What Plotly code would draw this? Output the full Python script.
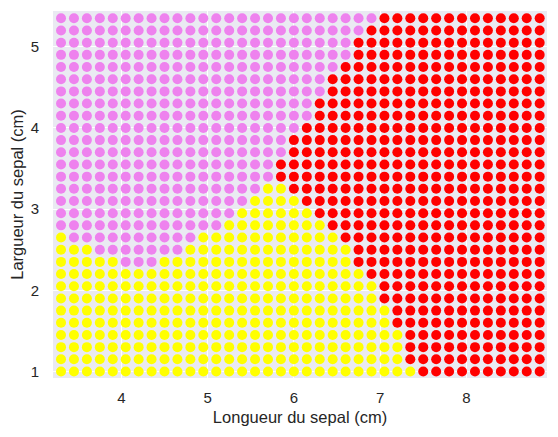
import plotly.graph_objects as go

# grid of the decision surface (sepal length on x, sepal width on y)
x_grid = [3.30, 3.45, 3.60, 3.75, 3.90, 4.05, 4.20, 4.35, 4.50, 4.65,
          4.80, 4.95, 5.10, 5.25, 5.40, 5.55, 5.70, 5.85, 6.00, 6.15,
          6.30, 6.45, 6.60, 6.75, 6.90, 7.05, 7.20, 7.35, 7.50, 7.65,
          7.80, 7.95, 8.10, 8.25, 8.40, 8.55, 8.70, 8.85]
y_grid = [5.35, 5.20, 5.05, 4.90, 4.75, 4.60, 4.45, 4.30, 4.15, 4.00,
          3.85, 3.70, 3.55, 3.40, 3.25, 3.10, 2.95, 2.80, 2.65, 2.50,
          2.35, 2.20, 2.05, 1.90, 1.75, 1.60, 1.45, 1.30, 1.15, 1.00]

# predicted class along each row, left to right, as runs (top row first)
# V = setosa, Y = versicolor, R = virginica
row_runs = [
    "V25 R13", "V24 R14", "V23 R15", "V23 R15", "V22 R16",
    "V21 R17", "V21 R17", "V20 R18", "V20 R18", "V19 R19",
    "V18 R20", "V18 R20", "V17 R21", "V17 R21", "V16 Y2 R20",
    "V15 Y4 R19", "V14 Y6 R18", "V13 Y8 R17", "Y1 V10 Y11 R16", "Y3 V7 Y13 R15",
    "Y5 V3 Y15 R15", "Y24 R14", "Y25 R13", "Y25 R13", "Y26 R12",
    "Y26 R12", "Y27 R11", "Y27 R11", "Y27 R11", "Y28 R10",
]

class_names = {"V": "setosa", "Y": "versicolor", "R": "virginica"}
class_colors = {"V": "violet", "Y": "yellow", "R": "red"}

points = {k: ([], []) for k in class_names}
for y, runs in zip(y_grid, row_runs):
    labels = []
    for run in runs.split():
        labels += [run[0]] * int(run[1:])
    assert len(labels) == len(x_grid)
    for x, lab in zip(x_grid, labels):
        points[lab][0].append(x)
        points[lab][1].append(y)

fig = go.Figure()
for k in ["V", "Y", "R"]:
    fig.add_trace(go.Scatter(
        x=points[k][0], y=points[k][1], mode="markers", name=class_names[k],
        marker=dict(color=class_colors[k], size=10, line=dict(width=0)),
    ))

# the page adds an 8px body margin, so the figure is a bit smaller than the window
font = "Liberation Sans, Arial, sans-serif"
fig.update_layout(
    width=550, height=429,
    margin=dict(l=45, r=11, t=3, b=59),
    paper_bgcolor="white", plot_bgcolor="#EAEAF2",
    showlegend=False,
    font=dict(family=font, color="#262626", size=15),
)
fig.update_xaxes(
    range=[3.207, 8.935], tickvals=[4, 5, 6, 7, 8],
    showgrid=True, gridcolor="white", gridwidth=1.2, zeroline=False, showline=False,
    ticks="outside", ticklen=6, tickcolor="rgba(0,0,0,0)", automargin=False,
    tickfont=dict(size=15),
    title=dict(text="Longueur du sepal (cm)", font=dict(size=16.5), standoff=6),
)
fig.update_yaxes(
    range=[0.92, 5.44], tickvals=[1, 2, 3, 4, 5],
    showgrid=True, gridcolor="white", gridwidth=1.2, zeroline=False, showline=False,
    ticks="outside", ticklen=10, tickcolor="rgba(0,0,0,0)", automargin=False,
    tickfont=dict(size=15),
    title=dict(text="Largueur du sepal (cm)", font=dict(size=16.5), standoff=3),
)

fig.write_html("out.html")
